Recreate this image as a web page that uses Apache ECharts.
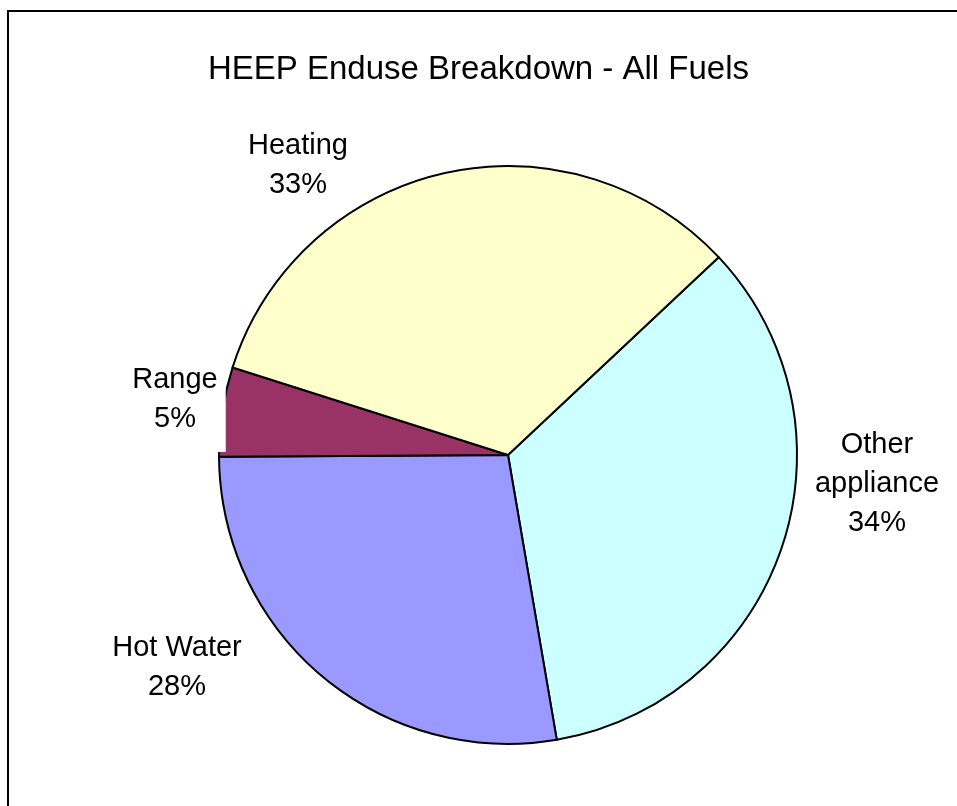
<!DOCTYPE html>
<html>
<head>
<meta charset="utf-8">
<script src="https://cdn.jsdelivr.net/npm/echarts@6/dist/echarts.min.js"></script>
<style>
html,body{margin:0;padding:0;background:#fff;}
#main{width:957px;height:806px;}
</style>
</head>
<body>
<div id="main"></div>
<script>
const titleText = "HEEP Enduse Breakdown - All Fuels";
const categories = ["Other appliance", "Hot Water", "Range", "Heating"];
const values = [34.3, 27.6, 5.0, 33.1];
const colors = ["#CCFFFF", "#9999FF", "#993366", "#FFFFCC"];

// label centre positions (layout only)
const labelPos = [[877, 484], [177, 667], [175, 399], [298, 165]];

const chart = echarts.init(document.getElementById('main'), null, {renderer: 'canvas'});
chart.setOption({
  backgroundColor: '#fff',
  animation: false,
  title: {
    text: titleText,
    left: 'center',
    top: 48,
    textStyle: {fontFamily: 'Liberation Sans', fontSize: 33, fontWeight: 'normal', color: '#000'}
  },
  graphic: [{
    type: 'rect',
    shape: {x: 8, y: 11, width: 960, height: 820},
    style: {fill: 'none', stroke: '#000', lineWidth: 2}
  }],
  series: [{
    type: 'pie',
    center: [508, 455],
    radius: 289,
    startAngle: 43.2,
    clockwise: true,
    avoidLabelOverlap: false,
    data: categories.map((c, i) => {
      const item = {name: c, value: values[i], itemStyle: {color: colors[i]}};
      if (c === 'Range') item.label = {backgroundColor: '#fff', padding: [14, 8]};
      return item;
    }),
    itemStyle: {borderColor: '#000', borderWidth: 2},
    label: {
      show: true,
      position: 'outside',
      formatter: p => (p.name === 'Other appliance' ? 'Other\nappliance' : p.name) + '\n' + Math.round(p.percent) + '%',
      fontFamily: 'Liberation Sans',
      fontSize: 29,
      lineHeight: 39,
      color: '#000',
      align: 'center'
    },
    labelLine: {show: false},
    labelLayout: p => ({
      x: labelPos[p.dataIndex][0],
      y: labelPos[p.dataIndex][1],
      align: 'center',
      verticalAlign: 'middle'
    }),
    emphasis: {disabled: true}
  }]
});
</script>
</body>
</html>
